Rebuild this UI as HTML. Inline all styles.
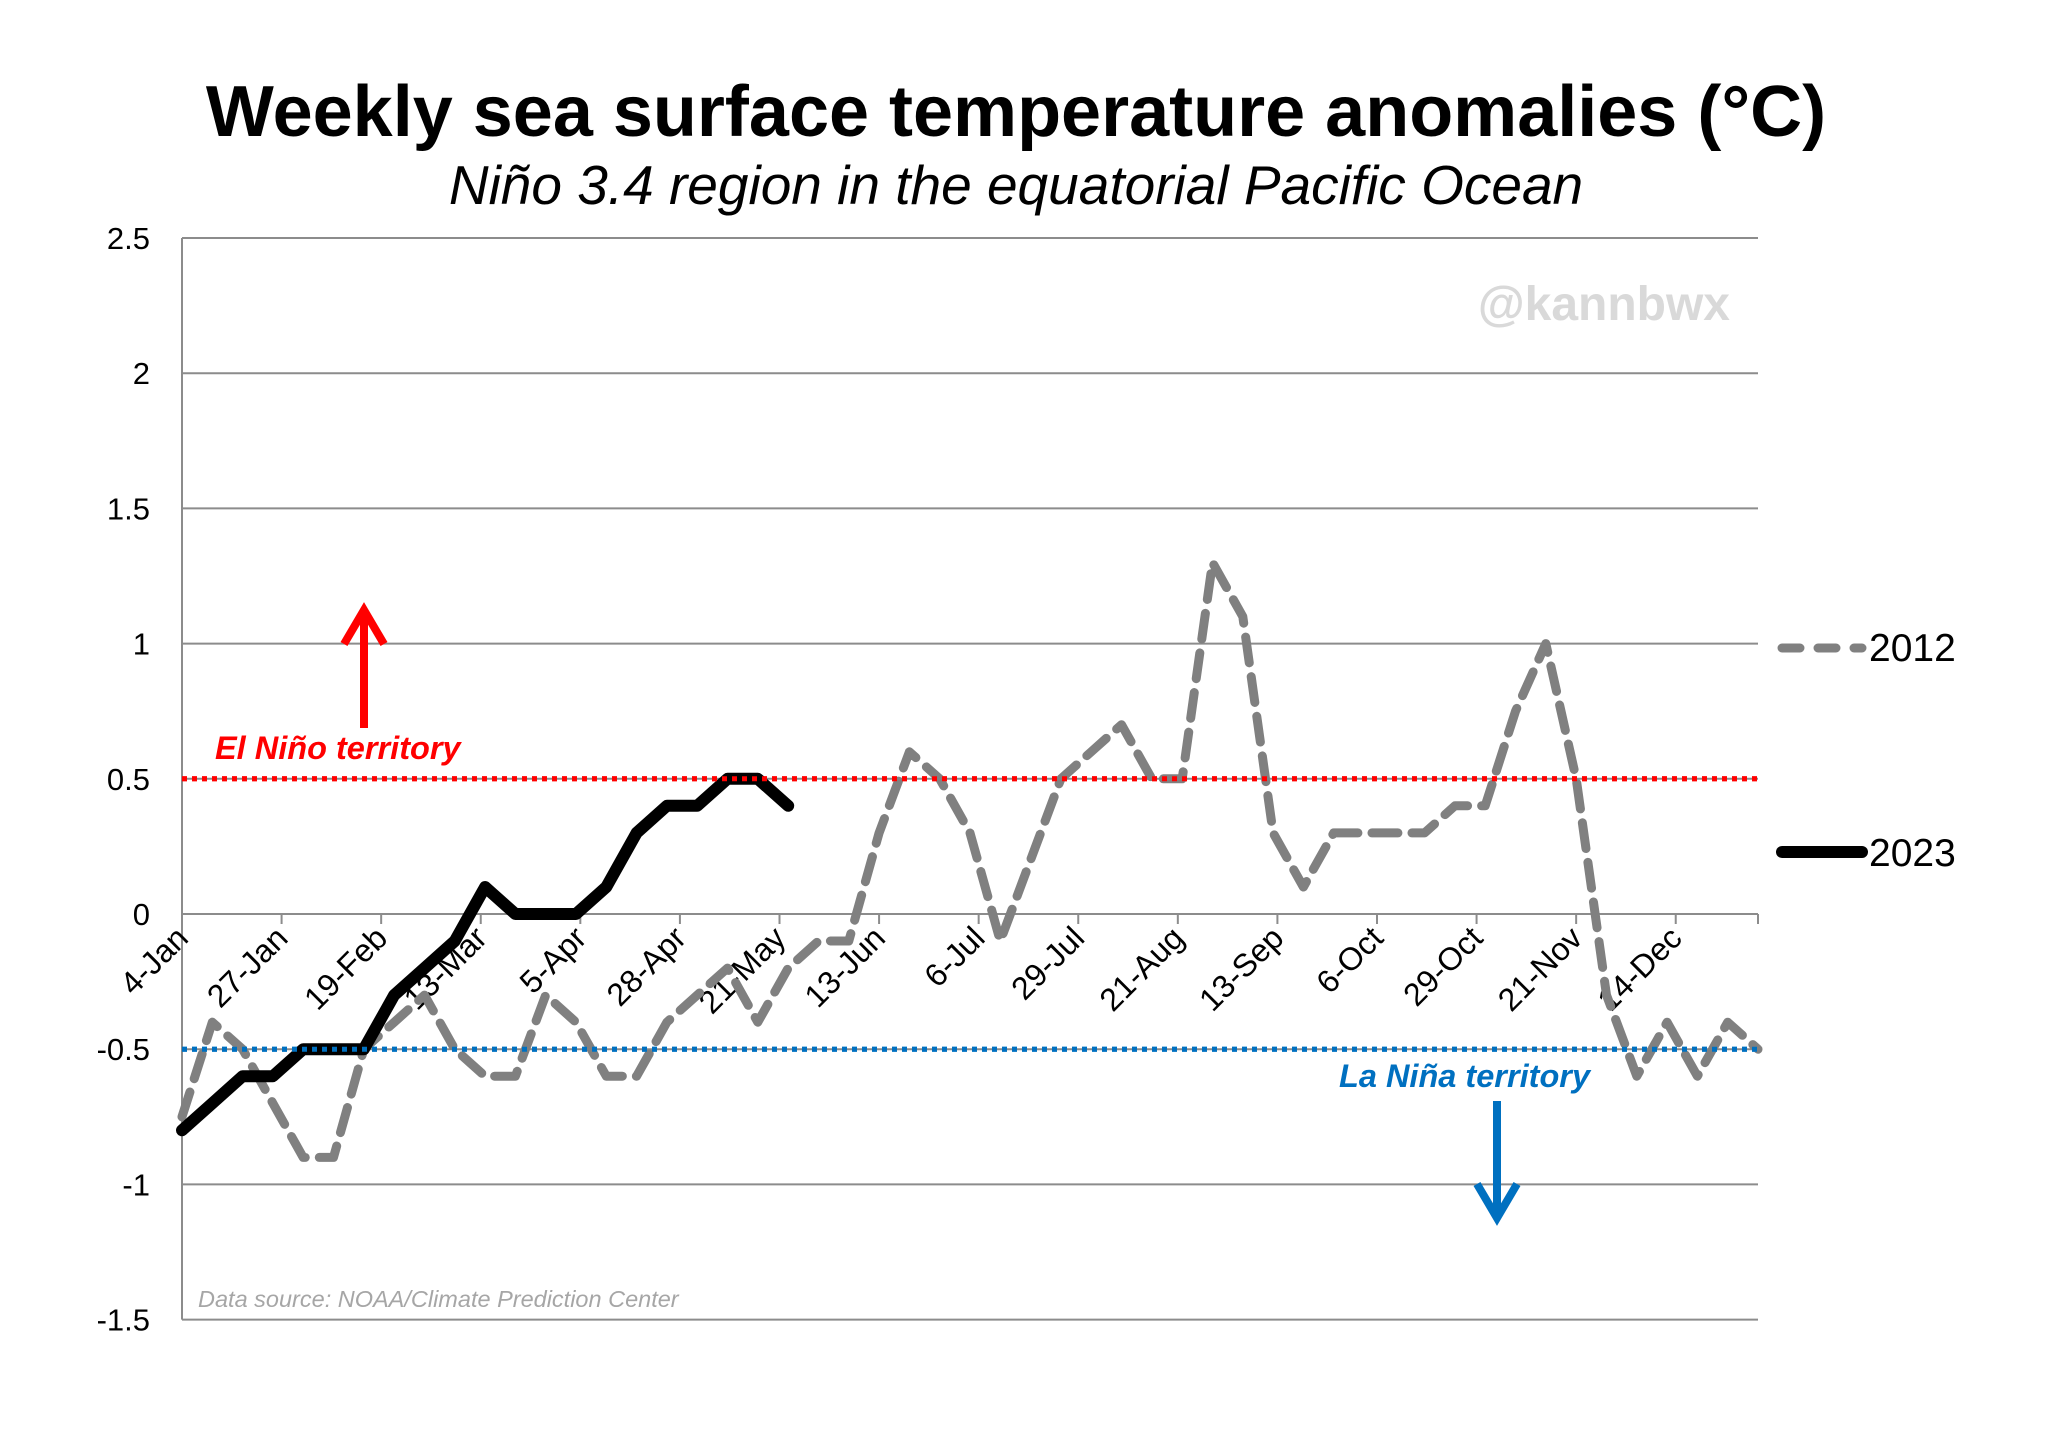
<!DOCTYPE html>
<html><head><meta charset="utf-8">
<style>
html,body{margin:0;padding:0;background:#fff;}
svg{display:block;font-family:"Liberation Sans",Arial,sans-serif;}
</style></head>
<body>
<svg id="chart" width="2048" height="1432" viewBox="0 0 2048 1432" xmlns="http://www.w3.org/2000/svg">
  <rect x="0" y="0" width="2048" height="1432" fill="#fff"/>
  <text x="1016" y="136" text-anchor="middle" font-size="72" font-weight="bold" fill="#000">Weekly sea surface temperature anomalies (°C)</text>
  <text x="1016" y="204" text-anchor="middle" font-size="55" font-style="italic" fill="#000">Niño 3.4 region in the equatorial Pacific Ocean</text>
  <text x="1730" y="320" text-anchor="end" font-size="48" font-weight="bold" fill="#d9d9d9">@kannbwx</text>
  <g id="grid"></g>
  <g id="xaxis"></g>
  <g id="refs"></g>
  <g id="series"></g>
  <text x="198" y="1307" font-size="23.5" font-style="italic" fill="#a6a6a6">Data source: NOAA/Climate Prediction Center</text>
  <text x="215" y="759" font-size="32.5" font-weight="bold" font-style="italic" fill="#ff0000">El Niño territory</text>
  <g>
    <line x1="364" y1="728" x2="364" y2="618" stroke="#ff0000" stroke-width="8"/>
    <polyline points="344,644 364,610 384,644" fill="none" stroke="#ff0000" stroke-width="8"/>
  </g>
  <text x="1339" y="1087" font-size="32.5" font-weight="bold" font-style="italic" fill="#0070c0">La Niña territory</text>
  <g>
    <line x1="1497" y1="1101" x2="1497" y2="1210" stroke="#0070c0" stroke-width="8"/>
    <polyline points="1477,1184 1497,1218 1517,1184" fill="none" stroke="#0070c0" stroke-width="8"/>
  </g>
  <g>
    <g>
      <line x1="1782" y1="648" x2="1862" y2="648" stroke="#808080" stroke-width="9" stroke-linecap="round" stroke-dasharray="18,18"/>
      <text x="1869" y="661" font-size="39" fill="#000">2012</text>
    </g>
    <g>
      <line x1="1782" y1="852" x2="1862" y2="852" stroke="#000" stroke-width="12" stroke-linecap="round"/>
      <text x="1869" y="866" font-size="39" fill="#000">2023</text>
    </g>
  </g>
</svg>
<script>
const yTicks = [2.5, 2, 1.5, 1, 0.5, 0, -0.5, -1, -1.5];
const yTickLabels = ["2.5", "2", "1.5", "1", "0.5", "0", "-0.5", "-1", "-1.5"];
const xTickLabels = ["4-Jan","27-Jan","19-Feb","13-Mar","5-Apr","28-Apr","21-May","13-Jun","6-Jul","29-Jul","21-Aug","13-Sep","6-Oct","29-Oct","21-Nov","14-Dec"];
const series2012 = [-0.75,-0.4,-0.5,-0.7,-0.9,-0.9,-0.5,-0.4,-0.3,-0.5,-0.6,-0.6,-0.3,-0.4,-0.6,-0.6,-0.4,-0.3,-0.2,-0.4,-0.2,-0.1,-0.1,0.3,0.6,0.5,0.3,-0.1,0.2,0.5,0.6,0.7,0.5,0.5,1.3,1.1,0.3,0.1,0.3,0.3,0.3,0.3,0.4,0.4,0.75,1.0,0.5,-0.3,-0.6,-0.4,-0.6,-0.4,-0.5];
const series2023 = [-0.8,-0.7,-0.6,-0.6,-0.5,-0.5,-0.5,-0.3,-0.2,-0.1,0.1,0,0,0,0.1,0.3,0.4,0.4,0.5,0.5,0.4];
const elNinoThreshold = 0.5;
const laNinaThreshold = -0.5;

const NS = "http://www.w3.org/2000/svg";
const X0 = 182, X1 = 1758, Y0 = 914, UNIT = 270.4;
const WEEKS = 52;
const DAYS_PER_TICK = 23;
function xScale(i){ return X0 + i * (X1 - X0) / WEEKS; }
function yScale(v){ return Y0 - v * UNIT; }
function mk(tag, attrs, parent){
  const e = document.createElementNS(NS, tag);
  for (const k in attrs) e.setAttribute(k, attrs[k]);
  parent.appendChild(e);
  return e;
}
const grid = document.getElementById('grid');
yTicks.forEach((v, i) => {
  const y = yScale(v);
  const gl = mk('line', {x1: X0, x2: X1, y1: y, y2: y, stroke: '#8c8c8c', 'stroke-width': 2}, grid);
  
  
  const t = mk('text', {x: 150, y: y + 11, 'text-anchor': 'end', 'font-size': 31, fill: '#000'}, grid);
  t.textContent = yTickLabels[i];
  
  
});
const yaxis = mk('line', {x1: X0, x2: X0, y1: yScale(2.5), y2: yScale(-1.5), stroke: '#8c8c8c', 'stroke-width': 2}, grid);



const xaxis = document.getElementById('xaxis');
xTickLabels.forEach((lab, k) => {
  const x = xScale(k * DAYS_PER_TICK / 7);
  const tk = mk('line', {x1: x, x2: x, y1: Y0, y2: Y0 + 10, stroke: '#8c8c8c', 'stroke-width': 2}, xaxis);
  
  
  const t = mk('text', {x: x + 8, y: Y0 + 26, 'text-anchor': 'end', 'font-size': 32, fill: '#000', transform: `rotate(-45 ${x + 8} ${Y0 + 26})`}, xaxis);
  t.textContent = lab;
  
  
});
const endTick = mk('line', {x1: X1, x2: X1, y1: Y0, y2: Y0 + 10, stroke: '#8c8c8c', 'stroke-width': 2}, xaxis);



const refs = document.getElementById('refs');
const rl = mk('line', {x1: X0, x2: X1, y1: yScale(elNinoThreshold), y2: yScale(elNinoThreshold), stroke: '#ff0000', 'stroke-width': 5, 'stroke-dasharray': '5,5'}, refs);


const bl = mk('line', {x1: X0, x2: X1, y1: yScale(laNinaThreshold), y2: yScale(laNinaThreshold), stroke: '#0070c0', 'stroke-width': 5, 'stroke-dasharray': '5,5'}, refs);



const ser = document.getElementById('series');
function pts(arr){ return arr.map((v, i) => xScale(i).toFixed(1) + ',' + yScale(v).toFixed(1)).join(' '); }
const l12 = mk('polyline', {points: pts(series2012), fill: 'none', stroke: '#808080', 'stroke-width': 9, 'stroke-dasharray': '26,14', 'stroke-linecap': 'round', 'stroke-linejoin': 'round'}, ser);


const l23 = mk('polyline', {points: pts(series2023), fill: 'none', stroke: '#000', 'stroke-width': 12, 'stroke-linecap': 'round', 'stroke-linejoin': 'round'}, ser);


const rl2 = mk('line', {x1: X0, x2: X1, y1: yScale(elNinoThreshold), y2: yScale(elNinoThreshold), stroke: '#ff0000', 'stroke-width': 5, 'stroke-dasharray': '5,5'}, ser);


const bl2 = mk('line', {x1: X0, x2: X1, y1: yScale(laNinaThreshold), y2: yScale(laNinaThreshold), stroke: '#0070c0', 'stroke-width': 5, 'stroke-dasharray': '5,5'}, ser);


</script>
</body></html>
